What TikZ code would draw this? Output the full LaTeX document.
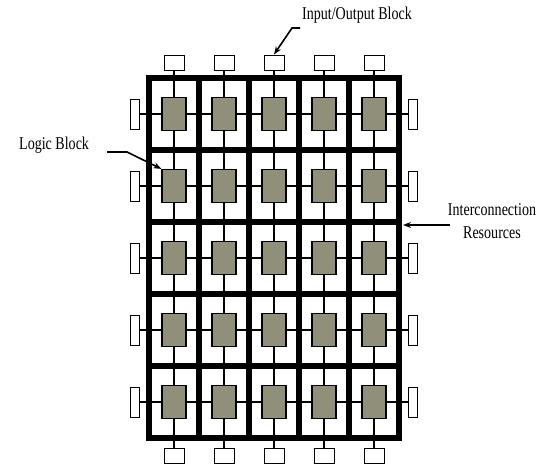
\documentclass[tikz,border=0pt]{standalone}
\usepackage{fontspec}
\setmainfont{Liberation Serif}
\newfontfamily\labelfont[FakeStretch=0.78]{Liberation Serif}
\usetikzlibrary{arrows.meta}
\usepackage{xcolor}
\definecolor{logicgrey}{HTML}{8F8F7A}

\begin{document}
\begin{tikzpicture}[x=1pt, y=-1pt,
  ioblock/.style={draw, line width=1pt, fill=white, inner sep=0pt},
  logicblock/.style={draw, line width=1.2pt, fill=logicgrey, minimum width=24pt, minimum height=33pt, inner sep=0pt},
  wire/.style={line width=1.5pt},
  routing/.style={line width=5.5pt, line cap=rect},
  pointer/.style={-{Stealth[length=8pt,width=6pt]}, line width=1.6pt},
  blocklabel/.style={font=\labelfont\fontsize{18}{23}\selectfont, inner sep=0pt}]
  \useasboundingbox (0,0) rectangle (547,466);

  % I/O blocks round the array
  \foreach \j in {0,...,4} {
    \node[ioblock, minimum width=20pt, minimum height=15pt] (io-t-\j) at ({174+50*\j},62.5) {};
    \node[ioblock, minimum width=20pt, minimum height=15pt] (io-b-\j) at ({174+50*\j},455.5) {};
  }
  \foreach \i in {0,...,4} {
    \node[ioblock, minimum width=9pt, minimum height=30pt] (io-l-\i) at (134.5,{114+72*\i}) {};
    \node[ioblock, minimum width=9pt, minimum height=30pt] (io-r-\i) at (413,{114+72*\i}) {};
  }

  % Wires through columns and rows
  \foreach \j in {0,...,4} \draw[wire] (io-t-\j) -- (io-b-\j);
  \foreach \i in {0,...,4} \draw[wire] (io-l-\i) -- (io-r-\i);

  % Interconnection grid
  \foreach \j in {0,...,5} \draw[routing] ({149+50*\j},78) -- ({149+50*\j},438);
  \foreach \i in {0,...,5} \draw[routing] (149,{78+72*\i}) -- (399,{78+72*\i});

  % Logic blocks
  \foreach \i in {0,...,4}
    \foreach \j in {0,...,4}
      \node[logicblock] (lb-\i-\j) at ({174+50*\j},{114+72*\i}) {};

  % Labels
  \node[blocklabel, anchor=west] (iolabel) at (302,15) {Input/Output Block};
  \node[blocklabel, anchor=west] (lblabel) at (19,145) {Logic Block};
  \node[blocklabel, align=center] (iclabel) at (492,221) {Interconnection\\Resources};

  % Pointers
  \coordinate (ioarr) at (300,28);
  \draw[pointer] (ioarr) -- ++(-8,0) -- (io-t-2.north);
  \coordinate (lbarr) at (107,152);
  \draw[pointer] (lbarr) -- ++(20,0) -- (lb-1-0.north west);
  \coordinate (icarr) at (450,225);
  \coordinate (gridR) at (403,225);
  \draw[pointer] (icarr) -- (gridR);
\end{tikzpicture}
\end{document}
